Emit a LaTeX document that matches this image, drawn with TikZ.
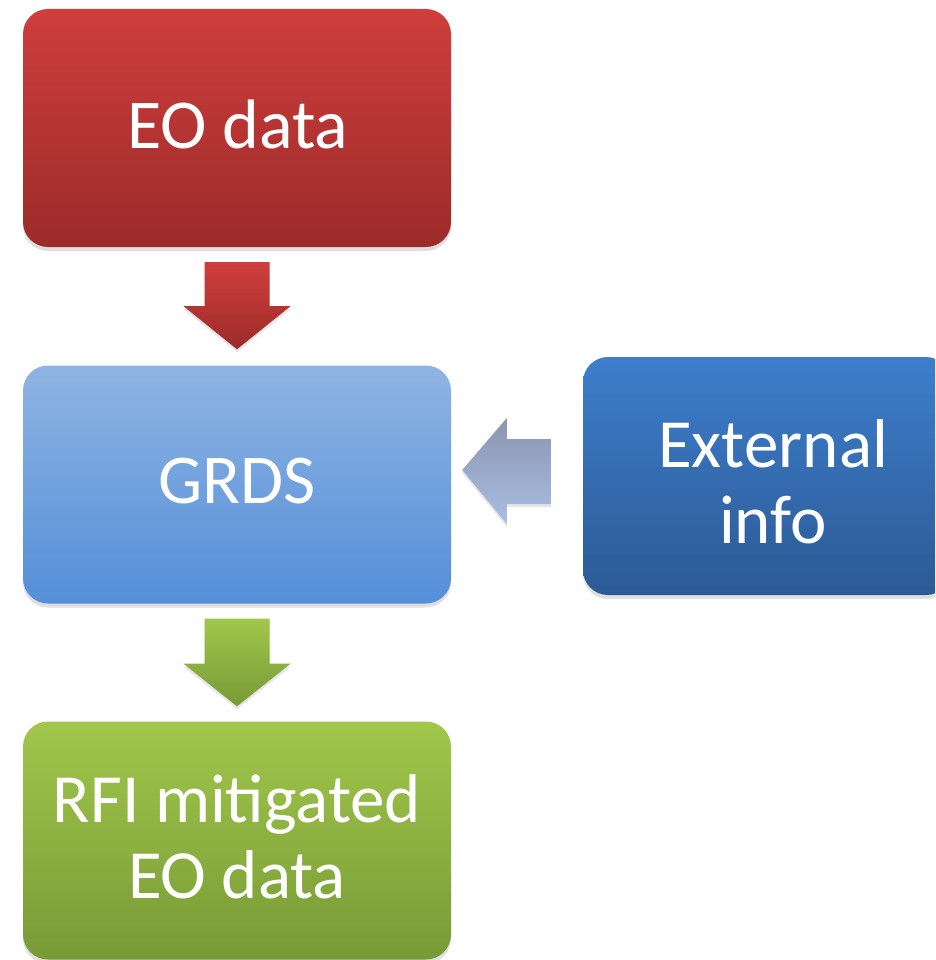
\documentclass[tikz,border=0pt]{standalone}
\usepackage{fontspec}
\setmainfont{Carlito}
\usepackage{tikz}
\usetikzlibrary{calc,shadows}

\definecolor{redtop}{HTML}{CF3E3C}
\definecolor{redbot}{HTML}{9C2B2A}
\definecolor{lbluetop}{HTML}{8FB4E3}
\definecolor{lbluebot}{HTML}{548FD8}
\definecolor{dbluetop}{HTML}{3D7ECC}
\definecolor{dbluebot}{HTML}{2C5A95}
\definecolor{greentop}{HTML}{A1C74B}
\definecolor{greenbot}{HTML}{789A36}
\definecolor{grayarrtop}{HTML}{8A95AF}
\definecolor{grayarrbot}{HTML}{AABEE3}

\tikzset{
  block/.style={rounded corners=25pt, minimum width=428pt, minimum height=238pt,
    drop shadow={shadow xshift=0pt, shadow yshift=-4pt, opacity=0.25}},
  lbl/.style={text=white, align=center, inner sep=0pt, font=\fontsize{70}{76}\selectfont},
  flow/.style={drop shadow={shadow xshift=0pt, shadow yshift=-3pt, opacity=0.2}}
}

\begin{document}
\begin{tikzpicture}[x=1pt, y=-1pt]
 \useasboundingbox (0,0) rectangle (935,960);
 \clip (0,0) rectangle (935,960);

 \node[block, top color=redtop, bottom color=redbot] (eo) at (237,128) {}; % 上の箱
 \node[block, top color=lbluetop, bottom color=lbluebot] (grds) at (237,484.5) {};
 \node[block, top color=greentop, bottom color=greenbot] (rfi) at (237,840.5) {};
 \node[block, minimum width=368pt, top color=dbluetop, bottom color=dbluebot] (ext) at (767,476) {};

 \node[lbl] (eolbl) at ($(eo)+(1,-4)$) {EO data};
 \node[lbl] (grdslbl) at ($(grds)+(0,-3)$) {GRDS};
 \node[lbl, font=\fontsize{69}{76}\selectfont] (rfilbl) at ($(rfi)+(0,-4)$) {RFI mitigated\\EO data};
 \node[lbl, font=\fontsize{69}{76}\selectfont] (extlbl) at ($(ext)+(6,6)$) {External\\info};

 % 下向きの矢印 (赤)
 \path[flow, top color=redtop, bottom color=redbot]
   ($(eo.south)+(-32.5,15)$) -- ($(eo.south)+(32.5,15)$) -- ($(eo.south)+(32.5,59)$)
   -- ($(eo.south)+(53.5,59)$) -- ($(grds.north)+(0,-16)$) -- ($(eo.south)+(-53.5,59)$)
   -- ($(eo.south)+(-32.5,59)$) -- cycle;
 % 下向きの矢印 (緑)
 \path[flow, top color=greentop, bottom color=greenbot]
   ($(grds.south)+(-32.5,15)$) -- ($(grds.south)+(32.5,15)$) -- ($(grds.south)+(32.5,60)$)
   -- ($(grds.south)+(53.5,60)$) -- ($(rfi.north)+(0,-15)$) -- ($(grds.south)+(-53.5,60)$)
   -- ($(grds.south)+(-32.5,60)$) -- cycle;
 % 左向きの矢印
 \path[flow, top color=grayarrtop, bottom color=grayarrbot]
   ($(ext.west)+(-32,-37)$) -- ($(ext.west)+(-32,28)$) -- ($(ext.west)+(-76,28)$)
   -- ($(ext.west)+(-76,48)$) -- ($(grds.east)+(11,-14.5)$) -- ($(ext.west)+(-76,-58)$)
   -- ($(ext.west)+(-76,-37)$) -- cycle;
\end{tikzpicture}
\end{document}
